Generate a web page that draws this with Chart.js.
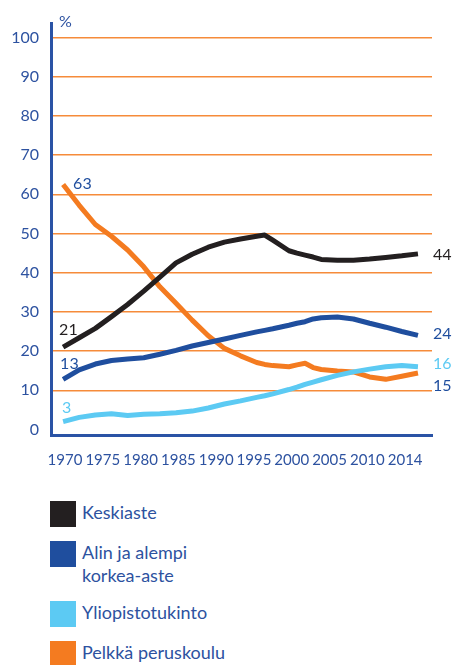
<!DOCTYPE html>
<html lang="fi">
<head>
<meta charset="utf-8">
<title>Koulutusaste 1970-2014</title>
<script src="https://cdn.jsdelivr.net/npm/chart.js@4.4.1/dist/chart.umd.min.js"></script>
<style>
    body { margin: 0; background: #fff; font-family: Lato, sans-serif; }
    #page { position: relative; width: 455px; height: 665px; overflow: hidden; }
    #chart-box { position: absolute; left: 0; top: 0; width: 455px; height: 475px; }
    #legend { position: absolute; left: 50px; top: 501px; }
    .legend-item { display: flex; align-items: flex-start; margin-bottom: 14px; }
    .legend-swatch { width: 26px; height: 26px; flex: none; }
    .legend-text { margin-left: 6px; font-size: 18px; line-height: 23px; color: #2d52a0; }
</style>
</head>
<body>
<div id="page">
    <div id="chart-box"><canvas id="educationChart"></canvas></div>
    <div id="legend"></div>
</div>

<script>
// Data
const years = [1970, 1972, 1974, 1976, 1978, 1980, 1982, 1984, 1986, 1988, 1990, 1992, 1994,
               1995, 1996, 1998, 1999, 2000, 2001, 2002, 2004, 2006, 2008, 2010, 2012, 2014];

const keskiaste = [21, 23.4, 25.8, 28.8, 31.9, 35.3, 38.9, 42.5, 44.7, 46.5, 47.8, 48.6, 49.3,
                   49.6, 48.3, 45.6, 45, 44.5, 44, 43.4, 43.2, 43.2, 43.5, 43.9, 44.3, 44.8];
const korkeaAste = [12.8, 15.2, 16.7, 17.6, 18, 18.3, 19.2, 20.2, 21.3, 22.2, 23.1, 24, 24.9,
                    25.3, 25.7, 26.6, 27.1, 27.5, 28.2, 28.5, 28.7, 28.2, 27.1, 26.1, 25, 24];
const yliopisto = [2, 3.1, 3.7, 4, 3.6, 3.9, 4, 4.3, 4.7, 5.5, 6.5, 7.3, 8.2,
                   8.6, 9.1, 10.2, 10.8, 11.5, 12.1, 12.7, 13.8, 14.7, 15.4, 16, 16.3, 16];
const peruskoulu = [62.5, 57.2, 52.3, 49.3, 45.8, 41.5, 36.4, 32.2, 27.9, 23.9, 20.7, 18.8, 17.1,
                    16.6, 16.3, 16, 16.5, 16.9, 15.8, 15.3, 14.9, 14.7, 13.4, 12.8, 13.6, 14.4];

const seriesNames = ['Keskiaste', 'Alin ja alempi\nkorkea-aste', 'Yliopistotukinto', 'Pelkkä peruskoulu'];
const startLabels = ['21', '13', '3', '63'];
const endLabels = ['44', '24', '16', '15'];

const xLabels = ['1970', '1975', '1980', '1985', '1990', '1995', '2000', '2005', '2010', '2014'];
const yTicks = [0, 10, 20, 30, 40, 50, 60, 70, 80, 90, 100];

const COLORS = {
    black: '#231f20',
    blue: '#1f4e9e',
    light: '#5ccaf3',
    orange: '#f47b20',
    grid: '#f68b3a',
    text: '#2d52a0',
    axis: '#2a53a5'
};

// numbers next to the first and last point of each line
const edgeLabelsPlugin = {
    id: 'edgeLabels',
    afterDatasetsDraw(chart, args, opts) {
        const ctx = chart.ctx;
        ctx.save();
        ctx.font = '16px Lato';
        ctx.textBaseline = 'middle';
        ctx.textAlign = 'left';
        chart.data.datasets.forEach((ds, i) => {
            const pts = chart.getDatasetMeta(i).data;
            const first = pts[0];
            const last = pts[pts.length - 1];
            const s = opts.start[i];
            const e = opts.end[i];
            ctx.fillStyle = s.color;
            ctx.fillText(startLabels[i], first.x + s.dx, first.y + s.dy);
            ctx.fillStyle = e.color;
            ctx.fillText(endLabels[i], last.x + e.dx, last.y + e.dy);
        });
        // unit above the y axis
        const area = chart.chartArea;
        ctx.fillStyle = COLORS.text;
        ctx.fillText('%', area.left + 8, area.top - 1);
        ctx.restore();
    }
};

const app = {
    init() {
        this.renderLegend();
        this.initChart();
    },

    renderLegend() {
        const swatches = [COLORS.black, COLORS.blue, COLORS.light, COLORS.orange];
        document.getElementById('legend').innerHTML = seriesNames.map((name, i) => `
            <div class="legend-item">
                <div class="legend-swatch" style="background:${swatches[i]}"></div>
                <div class="legend-text">${name.split('\n').join('<br>')}</div>
            </div>
        `).join('');
    },

    line(values, color) {
        return {
            data: years.map((y, i) => ({ x: y, y: values[i] })),
            borderColor: color,
            borderWidth: 5,
            borderJoinStyle: 'round',
            pointRadius: 0,
            tension: 0,
            fill: false
        };
    },

    initChart() {
        const ctx = document.getElementById('educationChart').getContext('2d');
        this.chart = new Chart(ctx, {
            type: 'line',
            data: {
                datasets: [
                    { label: 'Keskiaste', ...this.line(keskiaste, COLORS.black) },
                    { label: 'Alin ja alempi korkea-aste', ...this.line(korkeaAste, COLORS.blue) },
                    { label: 'Yliopistotukinto', ...this.line(yliopisto, COLORS.light) },
                    { label: 'Pelkkä peruskoulu', ...this.line(peruskoulu, COLORS.orange) }
                ]
            },
            options: {
                responsive: true,
                maintainAspectRatio: false,
                animation: false,
                layout: { padding: { top: 23, right: 23, left: 0, bottom: 0 } },
                plugins: {
                    legend: { display: false },
                    tooltip: { enabled: false },
                    edgeLabels: {
                        start: [
                            { dx: -4, dy: -17, color: COLORS.black },
                            { dx: -3, dy: -15, color: COLORS.blue },
                            { dx: -1, dy: -14, color: COLORS.light },
                            { dx: 10, dy: -1, color: COLORS.blue }
                        ],
                        end: [
                            { dx: 15, dy: 1, color: COLORS.black },
                            { dx: 15, dy: -1.5, color: COLORS.blue },
                            { dx: 15, dy: -3, color: COLORS.light },
                            { dx: 15, dy: 13, color: COLORS.blue }
                        ]
                    }
                },
                scales: {
                    x: {
                        type: 'linear',
                        min: 1968.5,
                        max: 2015.74,
                        display: false
                    },
                    // evenly spaced year labels, as in the original print
                    xl: {
                        type: 'linear',
                        position: 'bottom',
                        min: -0.37,
                        max: 9.71,
                        afterBuildTicks: s => { s.ticks = xLabels.map((_, i) => ({ value: i })); },
                        afterFit: s => { s.height = 40; },
                        grid: { display: false, drawTicks: false },
                        border: { color: COLORS.axis, width: 3 },
                        ticks: {
                            color: COLORS.text,
                            font: { family: 'Lato', size: 15 },
                            padding: 16,
                            maxRotation: 0,
                            autoSkip: false,
                            callback: v => xLabels[v]
                        }
                    },
                    y: {
                        type: 'linear',
                        min: -1.4,
                        max: 103.7,
                        afterBuildTicks: s => { s.ticks = yTicks.map(v => ({ value: v })); },
                        afterFit: s => { s.width = 51; },
                        grid: {
                            color: c => (c.tick && c.tick.value === 0) ? 'rgba(0,0,0,0)' : COLORS.grid,
                            lineWidth: 1.5,
                            drawTicks: false
                        },
                        border: { color: COLORS.axis, width: 3 },
                        ticks: {
                            color: COLORS.text,
                            font: { family: 'Lato', size: 16 },
                            padding: 12
                        }
                    }
                }
            },
            plugins: [edgeLabelsPlugin]
        });
    }
};

document.addEventListener('DOMContentLoaded', () => {
    app.init();
});
</script>
</body>
</html>
